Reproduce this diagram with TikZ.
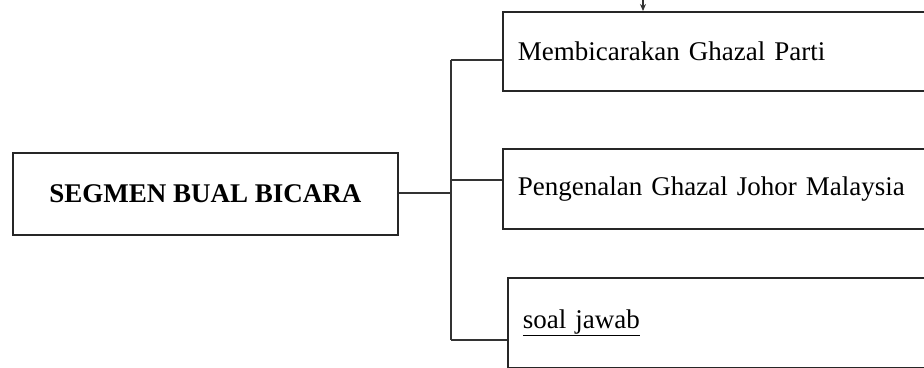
\documentclass[tikz,border=0pt]{standalone}
\usepackage{fontspec}
\setmainfont{Liberation Serif}
\usetikzlibrary{arrows.meta}
\begin{document}
\begin{tikzpicture}[x=1pt,y=-1pt,
  boxline/.style={draw=black!85, line width=1.8pt},
  conn/.style={draw=black!80, line width=1.1pt},
  rbox/.style={boxline, anchor=north west, minimum width=460pt, text width=430pt,
    inner xsep=15pt, inner ysep=0pt, align=left, font=\fontsize{27}{32}\selectfont},
]
\useasboundingbox (0,0) rectangle (924,367);
\clip (0,0) rectangle (924,367);
\node[boxline, anchor=north west, minimum width=385pt, minimum height=82pt, inner sep=0pt,
  font=\bfseries\fontsize{27}{32}\selectfont] (lb) at (12,152) {SEGMEN BUAL BICARA};
\node[rbox, minimum height=79pt] (b1) at (502,11) {Membicarakan Ghazal Parti};
\node[rbox, minimum height=80pt] (b2) at (502,148) {Pengenalan Ghazal Johor Malaysia};
\node[rbox, minimum height=90pt] (b3) at (507,277) {\underline{soal jawab}};
\coordinate (j) at (451,193);
\coordinate (t1) at (451,60);
\coordinate (t2) at (451,180);
\coordinate (t3) at (451,340);
\coordinate (top) at (643,-4);
\draw[conn] (lb.east |- j) -- (j);
\draw[conn] (t1) -- (t3);
\draw[conn] (t1) -- (b1.west |- t1);
\draw[conn] (t2) -- (b2.west |- t2);
\draw[conn] (t3) -- (b3.west |- t3);
\draw[conn, -{Stealth[length=7pt,width=6pt]}] (top) -- (b1.north -| top);
\end{tikzpicture}
\end{document}
